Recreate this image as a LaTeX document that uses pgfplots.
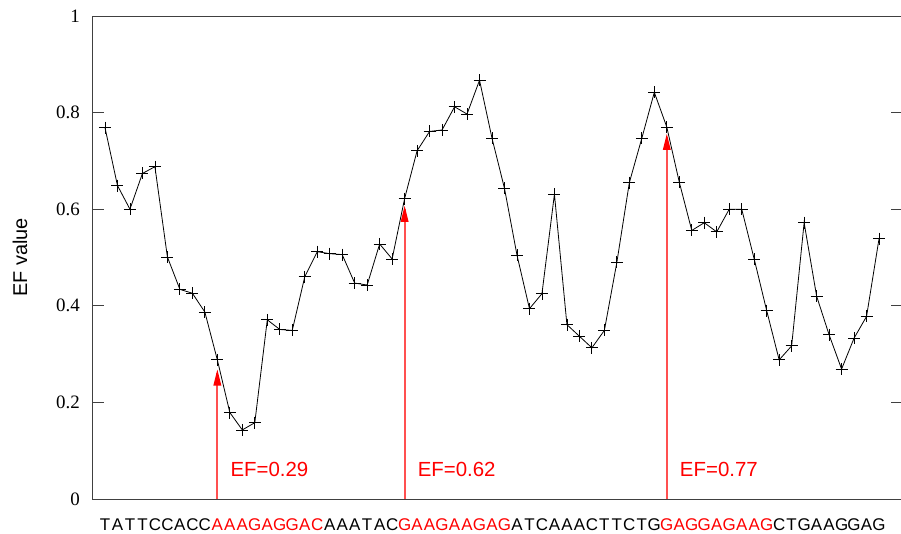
\documentclass[border=0pt]{standalone}
\usepackage{pgfplots}
\pgfplotsset{compat=1.18}
\usepackage{fontspec}
\setmainfont{Liberation Sans}
\newfontfamily\tnrfont{Liberation Serif}
\definecolor{arrred}{RGB}{255,0,0}
\definecolor{shaftred}{RGB}{255,80,80}
\pgfplotsset{
  common/.style={
    at={(92.5bp,35bp)}, anchor=south west,
    scale only axis, width=809bp, height=483bp,
    xmin=0, xmax=64.8, ymin=0, ymax=1,
    xtick style={draw=none},
    xticklabel style={font=\fontsize{17}{17}\selectfont, anchor=base, inner sep=0pt, yshift=-31bp},
  }
}
\begin{document}
\begin{tikzpicture}
\begin{axis}[
  common,
  axis line style={draw=black!75, line width=0.9bp},
  ytick={0,0.2,0.4,0.6,0.8,1},
  yticklabels={0,0.2,0.4,0.6,0.8,1},
  yticklabel style={font=\tnrfont\fontsize{19}{19}\selectfont, inner sep=0pt, anchor=east, xshift=-12.5bp},
  major tick length=11bp, tick align=inside,
  ytick style={draw=black!75, line width=0.9bp},
  xtick={1,2,3,4,5,6,7,8,9,19,20,21,22,23,24,34,35,36,37,38,39,40,41,42,43,44,45,55,56,57,58,59,60,61,62,63},
  xticklabels={T,A,T,T,C,C,A,C,C,A,A,A,T,A,C,A,T,C,A,A,A,C,T,T,C,T,G,C,T,G,A,A,G,G,A,G},
  ylabel={EF value},
  every axis y label/.style={at={(axis description cs:-0.0896,0.5)}, rotate=90, anchor=center, font=\fontsize{20}{20}\selectfont},
]
\addplot[shaftred, line width=2bp, forget plot] coordinates {(10,0) (10,0.26)};
\addplot[shaftred, line width=2bp, forget plot] coordinates {(25,0) (25,0.60)};
\addplot[shaftred, line width=2bp, forget plot] coordinates {(46,0) (46,0.75)};
\fill[arrred] (axis cs:10,0.268) -- ([xshift=-4bp,yshift=-16bp]axis cs:10,0.268) -- ([xshift=4bp,yshift=-16bp]axis cs:10,0.268) -- cycle;
\fill[arrred] (axis cs:25,0.607) -- ([xshift=-4bp,yshift=-16bp]axis cs:25,0.607) -- ([xshift=4bp,yshift=-16bp]axis cs:25,0.607) -- cycle;
\fill[arrred] (axis cs:46,0.756) -- ([xshift=-4bp,yshift=-16bp]axis cs:46,0.756) -- ([xshift=4bp,yshift=-16bp]axis cs:46,0.756) -- cycle;
\addplot[black, line width=0.8bp, mark=+, mark size=6bp, mark options={line width=0.8bp}] table {
x y
1 0.769
2 0.649
3 0.600
4 0.674
5 0.688
6 0.501
7 0.434
8 0.426
9 0.387
10 0.288
11 0.179
12 0.143
13 0.158
14 0.371
15 0.351
16 0.349
17 0.460
18 0.512
19 0.508
20 0.506
21 0.447
22 0.443
23 0.528
24 0.497
25 0.622
26 0.721
27 0.761
28 0.764
29 0.812
30 0.797
31 0.867
32 0.747
33 0.643
34 0.505
35 0.394
36 0.425
37 0.631
38 0.361
39 0.337
40 0.313
41 0.349
42 0.490
43 0.655
44 0.747
45 0.842
46 0.770
47 0.656
48 0.556
49 0.572
50 0.553
51 0.600
52 0.600
53 0.497
54 0.390
55 0.288
56 0.317
57 0.572
58 0.420
59 0.340
60 0.269
61 0.333
62 0.378
63 0.539
};
\node[text=arrred, anchor=base west, font=\fontsize{20.5}{20.5}\selectfont, inner sep=0pt, xshift=13bp] at (axis cs:10,0.0476) {EF=0.29};
\node[text=arrred, anchor=base west, font=\fontsize{20.5}{20.5}\selectfont, inner sep=0pt, xshift=13bp] at (axis cs:25,0.0476) {EF=0.62};
\node[text=arrred, anchor=base west, font=\fontsize{20.5}{20.5}\selectfont, inner sep=0pt, xshift=13bp] at (axis cs:46,0.0476) {EF=0.77};
\end{axis}
\begin{axis}[
  common,
  axis line style={draw=none},
  ytick=\empty,
  xtick={10,11,12,13,14,15,16,17,18,25,26,27,28,29,30,31,32,33,46,47,48,49,50,51,52,53,54},
  xticklabels={A,A,A,G,A,G,G,A,C,G,A,A,G,A,A,G,A,G,G,A,G,G,A,G,A,A,G},
  xticklabel style={text=arrred},
]
\end{axis}
\pgfresetboundingbox
\useasboundingbox (0,0) rectangle (901bp,534bp);
\end{tikzpicture}
\end{document}
